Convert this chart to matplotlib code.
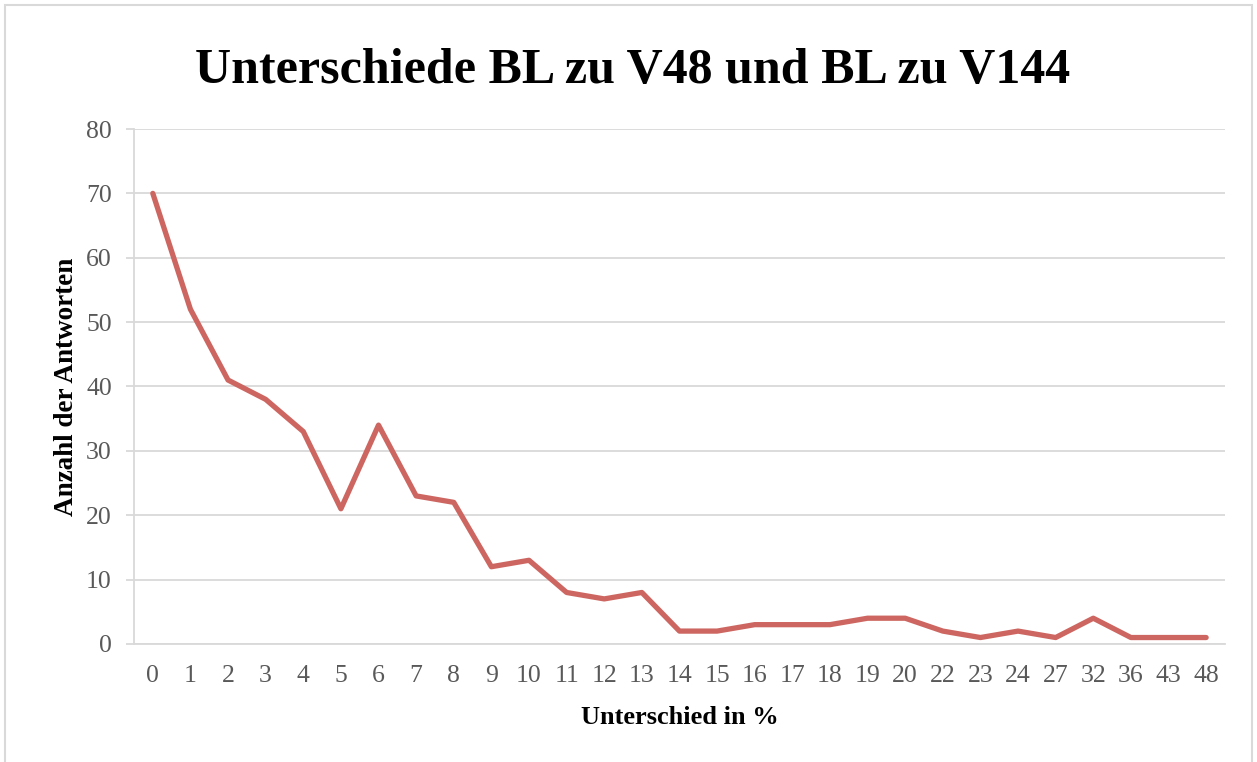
import matplotlib.pyplot as plt
from matplotlib.patches import Rectangle

categories = ['0', '1', '2', '3', '4', '5', '6', '7', '8', '9', '10', '11', '12', '13', '14',
              '15', '16', '17', '18', '19', '20', '22', '23', '24', '27', '32', '36', '43', '48']
antworten = [70, 52, 41, 38, 33, 21, 34, 23, 22, 12, 13, 8, 7, 8, 2,
             2, 3, 3, 3, 4, 4, 2, 1, 2, 1, 4, 1, 1, 1]

plt.rcParams['font.family'] = ['Liberation Serif', 'DejaVu Serif']

fig = plt.figure(figsize=(12.57, 7.62), dpi=100)
ax = fig.add_axes([0.1066, 0.1549, 0.8679, 0.6758])

# light frame around the whole chart
fig.patches.append(Rectangle((0.004, -0.01), 0.992, 1.003, transform=fig.transFigure,
                             fill=False, edgecolor='#d9d9d9', linewidth=1.5))

x = range(len(categories))
ax.plot(x, antworten, color='#cd6660', linewidth=3.8, solid_capstyle='round')

ax.set_xlim(-0.5, len(categories) - 0.5)
ax.set_ylim(0, 80)
ax.set_yticks(range(0, 81, 10))
ax.set_xticks(list(x))
ax.set_xticklabels(categories)
ax.grid(axis='y', color='#d9d9d9', linewidth=1.3)
ax.set_axisbelow(True)

for s in ['top', 'right']:
    ax.spines[s].set_visible(False)
ax.spines['left'].set_color('#d9d9d9')
ax.spines['bottom'].set_color('#d9d9d9')
ax.spines['left'].set_linewidth(1.3)
ax.spines['bottom'].set_linewidth(1.3)

ax.tick_params(axis='y', colors='#595959', labelsize=18.5, length=6, width=1.3, pad=10)
ax.tick_params(axis='y', color='#d9d9d9')
ax.tick_params(axis='x', colors='#595959', labelsize=18.5, length=0, pad=15)

ax.set_xlabel('Unterschied in %', fontsize=19, fontweight='bold', labelpad=14)
ax.set_ylabel('Anzahl der Antworten', fontsize=19.5, fontweight='bold', labelpad=5)
fig.text(0.503, 0.907, 'Unterschiede BL zu V48 und BL zu V144', ha='center', va='center',
         fontsize=36, fontweight='bold')

plt.savefig('out.png')
